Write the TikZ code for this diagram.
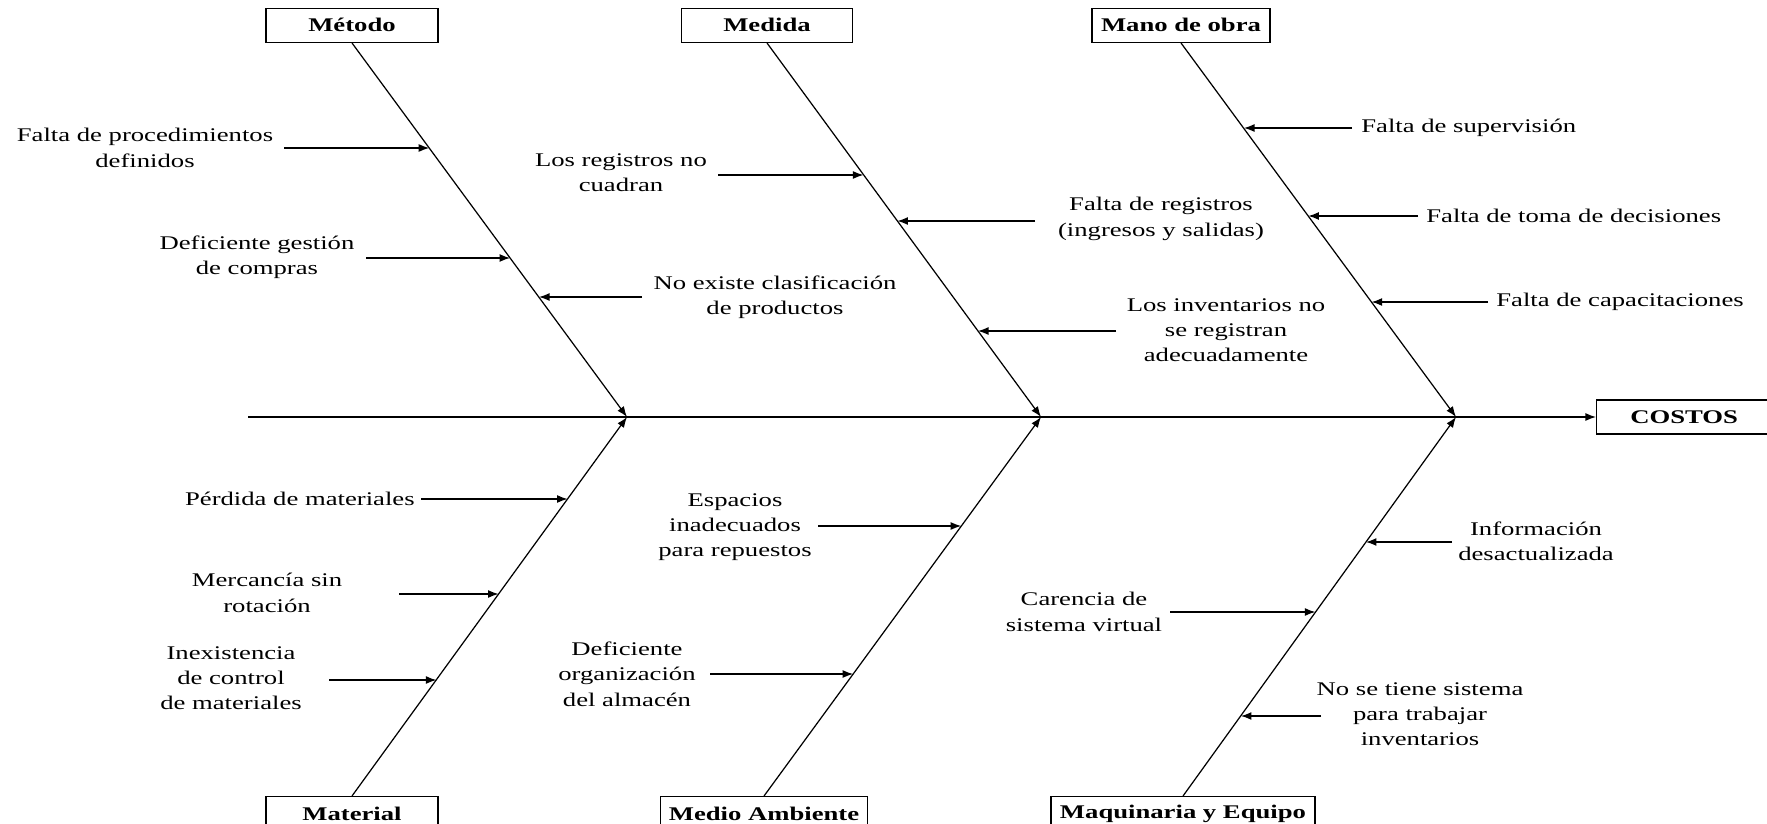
\documentclass[tikz,border=0pt]{standalone}
\usepackage{fontspec}
\setmainfont{Liberation Serif}[FakeStretch=1.38]
\usetikzlibrary{arrows.meta,calc}
\begin{document}
\begin{tikzpicture}[x=0.02cm,y=-0.02cm,
  every node/.style={font=\fontsize{11}{14.4}\selectfont, inner sep=0pt},
  catbox/.style={draw, line width=0.8pt, font=\fontsize{11}{14.4}\selectfont\bfseries, minimum height=0.68cm, inner sep=2pt},
  lbl/.style={align=center},
  ln/.style={line width=0.7pt},
  arr/.style={ln, -{Latex[length=6pt,width=4.5pt]}}]
\useasboundingbox (0,0) rectangle (1767,824);
% joints on the spine
\coordinate (J1) at (627,417);
\coordinate (J2) at (1041,417);
\coordinate (J3) at (1456,417);
\coordinate (S0) at (248,417);
% category boxes
\node[catbox, minimum width=3.44cm, anchor=south] (metodo) at (352,43) {Método};
\node[catbox, minimum width=3.42cm, anchor=south] (medida) at (767,43) {Medida};
\node[catbox, minimum width=3.56cm, anchor=south] (mano) at (1181,43) {Mano de obra};
\node[catbox, minimum width=3.44cm, anchor=north] (material) at (352,796) {Material};
\node[catbox, minimum width=4.14cm, anchor=north] (medio) at (764,796) {Medio Ambiente};
\node[catbox, minimum width=5.28cm, anchor=north] (maq) at (1183,796) {Maquinaria y Equipo};
\node[catbox, minimum width=3.5cm, anchor=west] (costos) at (1596,417) {COSTOS};
% spine and bones
\draw[arr] (S0) -- (costos.west);
\draw[arr] (metodo.south) -- (J1);
\draw[arr] (medida.south) -- (J2);
\draw[arr] (mano.south) -- (J3);
\draw[arr] (material.north) -- (J1);
\draw[arr] (medio.north) -- (J2);
\draw[arr] (maq.north) -- (J3);
% heads on bones
\coordinate (h1) at ($(metodo.south)!0.281!(J1)$);
\coordinate (h2) at ($(metodo.south)!0.575!(J1)$);
\coordinate (h3) at ($(metodo.south)!0.680!(J1)$);
\coordinate (h4) at ($(medida.south)!0.352!(J2)$);
\coordinate (h5) at ($(medida.south)!0.476!(J2)$);
\coordinate (h6) at ($(medida.south)!0.770!(J2)$);
\coordinate (h7) at ($(mano.south)!0.229!(J3)$);
\coordinate (h8) at ($(mano.south)!0.463!(J3)$);
\coordinate (h9) at ($(mano.south)!0.693!(J3)$);
\coordinate (h10) at ($(material.north)!0.784!(J1)$);
\coordinate (h11) at ($(material.north)!0.533!(J1)$);
\coordinate (h12) at ($(material.north)!0.307!(J1)$);
\coordinate (h13) at ($(medio.north)!0.712!(J2)$);
\coordinate (h14) at ($(medio.north)!0.322!(J2)$);
\coordinate (h15) at ($(maq.north)!0.670!(J3)$);
\coordinate (h16) at ($(maq.north)!0.485!(J3)$);
\coordinate (h17) at ($(maq.north)!0.212!(J3)$);
% tails
\coordinate (t1) at (284,148);
\coordinate (t2) at (366,258);
\coordinate (t3) at (642,297);
\coordinate (t4) at (718,175);
\coordinate (t5) at (1035,221);
\coordinate (t6) at (1116,331);
\coordinate (t7) at (1352,128);
\coordinate (t8) at (1418,216);
\coordinate (t9) at (1488,302);
\coordinate (t10) at (421,499);
\coordinate (t11) at (399,594);
\coordinate (t12) at (329,680);
\coordinate (t13) at (818,526);
\coordinate (t14) at (710,674);
\coordinate (t15) at (1452,542);
\coordinate (t16) at (1170,612);
\coordinate (t17) at (1321,716);
\foreach \i in {1,...,17} {\draw[arr] (t\i) -- (t\i -| h\i);}
% cause labels
\node[lbl] (c1) at (145,148) {Falta de procedimientos\\definidos};
\node[lbl] (c2) at (257,257) {Deficiente gestión\\de compras};
\node[lbl] (c3) at (775,297) {No existe clasificación\\de productos};
\node[lbl] (c4) at (621,173) {Los registros no\\cuadran};
\node[lbl] (c5) at (1161,219) {Falta de registros\\(ingresos y salidas)};
\node[lbl] (c6) at (1226,330) {Los inventarios no\\se registran\\adecuadamente};
\node[anchor=west] (c7) at (1361,128) {Falta de supervisión};
\node[anchor=west] (c8) at (1426,216) {Falta de toma de decisiones};
\node[anchor=west] (c9) at (1496,302) {Falta de capacitaciones};
\node[anchor=east] (c10) at (415,499) {Pérdida de materiales};
\node[lbl] (c11) at (267,593) {Mercancía sin\\rotación};
\node[lbl] (c12) at (231,678) {Inexistencia\\de control\\de materiales};
\node[lbl] (c13) at (735,527) {Espacios\\inadecuados\\para repuestos};
\node[lbl] (c14) at (627,674) {Deficiente\\organización\\del almacén};
\node[lbl] (c15) at (1536,541) {Información\\desactualizada};
\node[lbl] (c16) at (1084,612) {Carencia de\\sistema virtual};
\node[lbl] (c17) at (1420,714) {No se tiene sistema\\para trabajar\\inventarios};
\end{tikzpicture}
\end{document}
